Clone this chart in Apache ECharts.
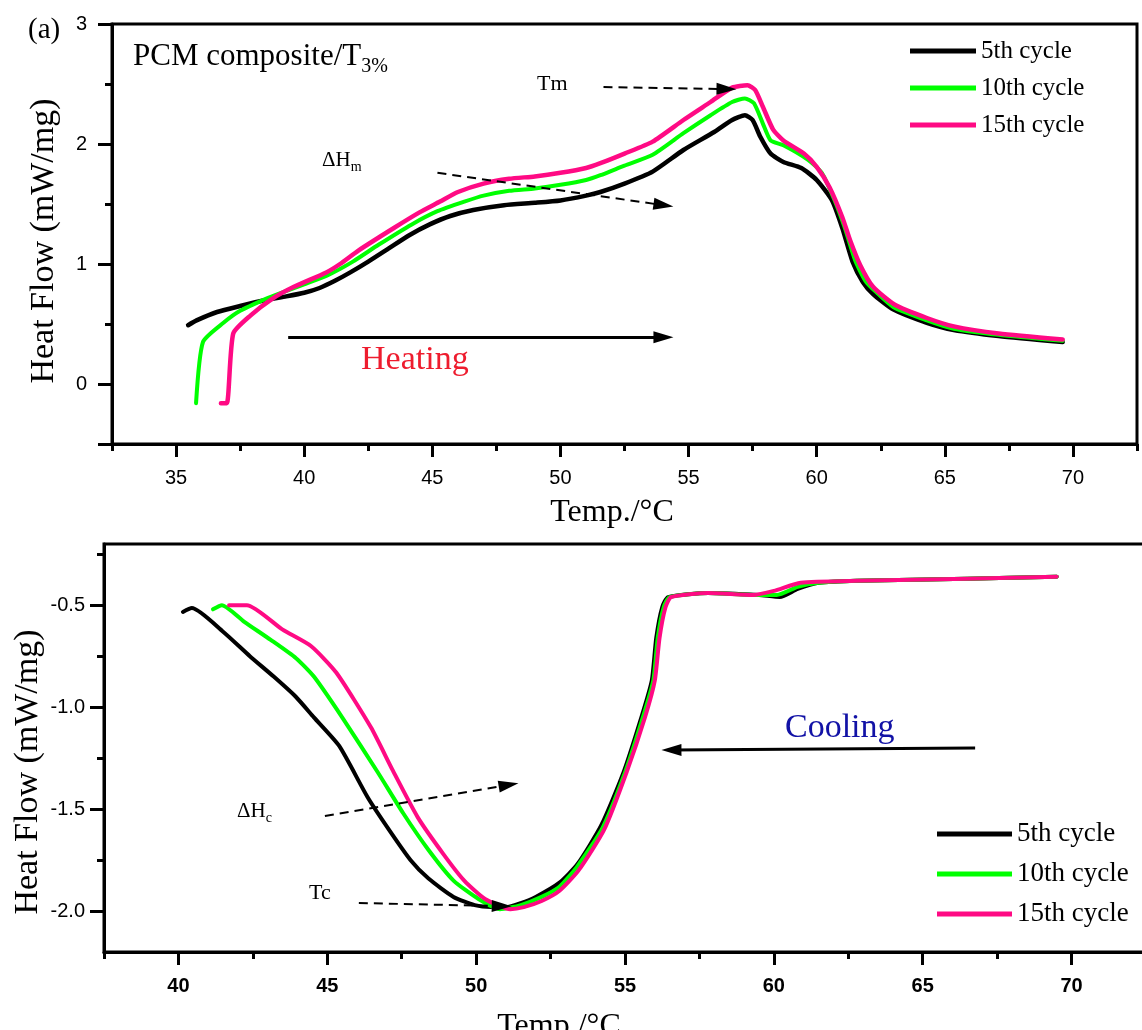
<!DOCTYPE html>
<html>
<head>
<meta charset="utf-8">
<title>DSC heating / cooling cycles</title>
<script src="https://cdn.jsdelivr.net/npm/echarts@6/dist/echarts.min.js"></script>
<style>
  html, body { margin: 0; padding: 0; background: #fff; }
  #chart { width: 1142px; height: 1030px; }
</style>
</head>
<body>
<div id="chart"></div>
<script>
// series names and colours
const cycleNames = ['5th cycle', '10th cycle', '15th cycle'];
const cycleColors = ['#000000', '#00ff00', '#ff0a84'];

// top panel: heating, [temperature °C, heat flow mW/mg]
const heating5 = [[35.47,0.49],[35.8,0.53],[36.6,0.60],[37.5,0.65],[38.5,0.70],[39.3,0.73],[40.0,0.76],[40.6,0.80],[41.2,0.86],[41.8,0.93],[42.5,1.02],[43.3,1.13],[44.1,1.24],[44.9,1.33],[45.7,1.40],[46.6,1.45],[47.8,1.49],[49.0,1.51],[50.0,1.53],[51.0,1.57],[51.56,1.60],[52.5,1.67],[53.6,1.77],[54.8,1.95],[56.0,2.10],[56.7,2.20],[57.2,2.24],[57.5,2.20],[57.8,2.06],[58.2,1.92],[58.7,1.85],[59.4,1.80],[60.0,1.70],[60.6,1.53],[61.0,1.30],[61.4,1.02],[61.8,0.85],[62.2,0.75],[63.0,0.62],[64.3,0.51],[65.35,0.45],[67.1,0.40],[69.6,0.35]];
const heating10 = [[35.78,-0.16],[36.05,0.35],[36.85,0.51],[37.5,0.61],[38.5,0.71],[39.1,0.76],[40.0,0.83],[40.86,0.90],[41.9,1.02],[42.9,1.16],[44.2,1.33],[45.2,1.44],[46.25,1.52],[47.0,1.57],[48.0,1.61],[49.0,1.63],[50.0,1.66],[51.0,1.70],[51.56,1.74],[52.5,1.82],[53.6,1.91],[54.8,2.09],[55.86,2.24],[56.7,2.35],[57.2,2.38],[57.55,2.34],[57.9,2.17],[58.2,2.03],[58.7,1.99],[59.65,1.87],[60.2,1.76],[60.7,1.53],[61.1,1.30],[61.5,1.03],[61.9,0.86],[62.3,0.77],[63.0,0.64],[64.3,0.53],[65.35,0.46],[67.1,0.41],[69.6,0.36]];
const heating15 = [[36.75,-0.16],[36.98,-0.16],[37.23,0.42],[37.9,0.57],[38.75,0.71],[39.6,0.81],[40.86,0.93],[41.4,1.0],[42.1,1.11],[43.5,1.30],[44.5,1.43],[45.3,1.52],[46.0,1.60],[47.0,1.67],[48.0,1.71],[49.0,1.73],[50.0,1.76],[51.0,1.80],[51.56,1.84],[52.5,1.92],[53.6,2.02],[54.8,2.20],[55.86,2.35],[56.7,2.47],[57.3,2.49],[57.6,2.45],[57.9,2.31],[58.3,2.12],[58.7,2.03],[59.5,1.92],[60.0,1.81],[60.5,1.64],[61.0,1.39],[61.3,1.20],[61.7,0.99],[62.2,0.81],[63.05,0.66],[64.3,0.55],[65.35,0.48],[67.1,0.42],[69.6,0.37]];

// bottom panel: cooling
const cooling5 = [[40.15,-0.533],[40.45,-0.514],[41.5,-0.63],[42.4,-0.75],[43.2,-0.85],[43.95,-0.95],[44.55,-1.05],[45.4,-1.19],[46.35,-1.44],[47.07,-1.60],[47.8,-1.75],[48.4,-1.84],[49.24,-1.93],[49.95,-1.97],[50.5,-1.98],[51.0,-1.98],[51.5,-1.96],[52.0,-1.93],[52.8,-1.86],[53.4,-1.77],[54.2,-1.58],[54.95,-1.32],[55.55,-1.05],[55.9,-0.87],[56.05,-0.66],[56.25,-0.51],[56.45,-0.46],[57.8,-0.44],[59.5,-0.45],[60.2,-0.46],[60.8,-0.42],[61.5,-0.39],[62.8,-0.38],[66.5,-0.37],[69.5,-0.36]];
const cooling10 = [[41.16,-0.52],[41.46,-0.50],[42.2,-0.58],[43.1,-0.67],[43.95,-0.76],[44.55,-0.85],[45.5,-1.05],[46.7,-1.32],[47.55,-1.52],[48.4,-1.70],[49.24,-1.85],[50.08,-1.94],[50.8,-1.99],[51.5,-1.97],[52.2,-1.93],[52.8,-1.88],[53.4,-1.78],[54.25,-1.59],[55.0,-1.32],[55.6,-1.05],[55.95,-0.87],[56.1,-0.66],[56.3,-0.51],[56.5,-0.46],[57.8,-0.44],[59.4,-0.45],[60.1,-0.45],[60.8,-0.41],[61.5,-0.39],[62.8,-0.38],[66.5,-0.37],[69.5,-0.36]];
const cooling15 = [[41.7,-0.50],[42.3,-0.50],[43.5,-0.62],[44.45,-0.70],[45.3,-0.83],[46.47,-1.10],[47.2,-1.31],[48.04,-1.54],[48.9,-1.72],[49.6,-1.85],[50.3,-1.94],[51.15,-1.99],[51.6,-1.98],[52.2,-1.95],[52.8,-1.90],[53.44,-1.80],[54.3,-1.60],[55.05,-1.32],[55.67,-1.05],[56.0,-0.87],[56.16,-0.66],[56.36,-0.51],[56.55,-0.46],[57.8,-0.44],[59.3,-0.45],[60.0,-0.43],[60.9,-0.39],[62.8,-0.38],[66.5,-0.37],[69.5,-0.36]];

// axis ticks
const topXMajor = [35, 40, 45, 50, 55, 60, 65, 70];
const topXMinor = [32.5, 37.5, 42.5, 47.5, 52.5, 57.5, 62.5, 67.5, 72.5];
const topYMajor = [-0.5, 0, 1, 2, 3];
const topYLabels = [0, 1, 2, 3];
const topYMinor = [0.5, 1.5, 2.5];
const botXMajor = [40, 45, 50, 55, 60, 65, 70];
const botXMinor = [37.5, 42.5, 47.5, 52.5, 57.5, 62.5, 67.5];
const botYMajor = [-2.0, -1.5, -1.0, -0.5];
const botYMinor = [-1.75, -1.25, -0.75, -0.25];

// annotation arrows, in data coordinates [[x1, y1], [x2, y2]]
const topDashedArrows = [[[51.68, 2.475], [56.48, 2.458]], [[45.2, 1.76], [54.02, 1.49]]];
const topSolidArrows = [[[39.375, 0.39], [54.02, 0.39]]];
const botDashedArrows = [[[44.92, -1.533], [51.09, -1.381]], [[46.06, -1.96], [50.86, -1.975]]];
const botSolidArrows = [[[66.76, -1.2], [56.56, -1.21]]];

const serif = '"Liberation Serif", "DejaVu Serif", serif';
const sans = '"Liberation Sans", Arial, sans-serif';

const measureCtx = document.createElement('canvas').getContext('2d');
function textWidth(txt, font) {
  measureCtx.font = font;
  return measureCtx.measureText(txt).width;
}

function label(x, y, txt, size, opts) {
  opts = opts || {};
  return {
    type: 'text', x: x, y: y, rotation: opts.rotation || 0, silent: true,
    style: {
      text: txt, fill: opts.color || '#000',
      font: size + 'px ' + serif,
      align: opts.align || 'left', verticalAlign: 'middle'
    }
  };
}

function withSub(x, y, main, sub, size, subSize, drop) {
  const w = textWidth(main, size + 'px ' + serif);
  return [label(x, y, main, size), label(x + w, y + drop, sub, subSize)];
}

function arrowLines(list, dashed) {
  return {
    silent: true,
    animation: false,
    symbol: ['none', 'triangle'],
    symbolSize: [12, 20],
    label: { show: false },
    lineStyle: { color: '#000', width: dashed ? 2 : 3, type: dashed ? [9, 6] : 'solid' },
    emphasis: { disabled: true },
    data: list.map(a => [{ coord: a[0] }, { coord: a[1] }])
  };
}

function cycleSeries(i, data, grid, width) {
  return {
    name: cycleNames[i],
    type: 'line',
    xAxisIndex: grid * 2,
    yAxisIndex: grid * 2,
    data: data,
    symbol: 'none',
    smooth: 0.2,
    animation: false,
    z: 2 + i,
    itemStyle: { color: cycleColors[i] },
    lineStyle: { color: cycleColors[i], width: width, cap: 'round', join: 'round' }
  };
}

function majorX(grid, min, max, ticks, bold) {
  return {
    type: 'value', gridIndex: grid, min: min, max: max, position: 'bottom',
    axisLine: { show: true, onZero: false, lineStyle: { color: '#000', width: 3 } },
    axisTick: { show: true, customValues: ticks, length: 13, lineStyle: { color: '#000', width: 3 } },
    axisLabel: {
      show: true, customValues: ticks, margin: 24, color: '#000',
      fontFamily: sans, fontSize: 20, fontWeight: bold ? 'bold' : 'normal'
    },
    splitLine: { show: false }
  };
}

function minorX(grid, min, max, ticks) {
  return {
    type: 'value', gridIndex: grid, min: min, max: max, position: 'bottom', offset: 0,
    axisLine: { show: false, onZero: false },
    axisTick: { show: true, customValues: ticks, length: 7, lineStyle: { color: '#000', width: 3 } },
    axisLabel: { show: false },
    splitLine: { show: false }
  };
}

function majorY(grid, min, max, ticks, labels, margin, fmt) {
  return {
    type: 'value', gridIndex: grid, min: min, max: max, position: 'left',
    axisLine: { show: true, onZero: false, lineStyle: { color: '#000', width: 3 } },
    axisTick: { show: true, customValues: ticks, length: 14, lineStyle: { color: '#000', width: 3 } },
    axisLabel: {
      show: true, customValues: labels, margin: margin, color: '#000',
      fontFamily: sans, fontSize: 20, formatter: fmt
    },
    splitLine: { show: false }
  };
}

function minorY(grid, min, max, ticks) {
  return {
    type: 'value', gridIndex: grid, min: min, max: max, position: 'left', offset: 0,
    axisLine: { show: false, onZero: false },
    axisTick: { show: true, customValues: ticks, length: 7, lineStyle: { color: '#000', width: 3 } },
    axisLabel: { show: false },
    splitLine: { show: false }
  };
}

const topS = [cycleSeries(0, heating5, 0, 4.5), cycleSeries(1, heating10, 0, 4), cycleSeries(2, heating15, 0, 4.5)];
const botS = [cycleSeries(0, cooling5, 1, 4), cycleSeries(1, cooling10, 1, 4), cycleSeries(2, cooling15, 1, 4)];
topS[0].markLine = arrowLines(topDashedArrows, true);
topS[1].markLine = arrowLines(topSolidArrows, false);
botS[0].markLine = arrowLines(botDashedArrows, true);
botS[1].markLine = arrowLines(botSolidArrows, false);

const texts = [
  label(28, 30, '(a)', 29),
  ...withSub(133, 57, 'PCM composite/T', '3%', 31, 20, 10),
  label(537, 84, 'Tm', 22),
  ...withSub(322, 160, 'ΔH', 'm', 21, 14, 7),
  label(361, 360, 'Heating', 34, { color: '#ee1c2e' }),
  label(612, 513, 'Temp./°C', 32, { align: 'center' }),
  label(44, 241, 'Heat Flow (mW/mg)', 34, { align: 'center', rotation: Math.PI / 2 }),
  label(785, 728, 'Cooling', 34, { color: '#1212a6' }),
  ...withSub(237, 811, 'ΔH', 'c', 21, 14, 7),
  label(309, 893, 'Tc', 22),
  label(559, 1027, 'Temp./°C', 32, { align: 'center' }),
  label(28, 772, 'Heat Flow (mW/mg)', 34, { align: 'center', rotation: Math.PI / 2 })
];

const legendBase = {
  data: cycleNames, orient: 'vertical', icon: 'rect', itemHeight: 5,
  selectedMode: false, inactiveColor: '#000'
};

const chart = echarts.init(document.getElementById('chart'), null, { renderer: 'canvas' });
chart.setOption({
  backgroundColor: '#fff',
  animation: false,
  grid: [
    { left: 112, top: 24, width: 1025, height: 420, show: true, borderColor: '#000', borderWidth: 3, outerBoundsMode: 'none' },
    { left: 104, top: 544, width: 1042, height: 408, show: true, borderColor: '#000', borderWidth: 3, outerBoundsMode: 'none' }
  ],
  xAxis: [
    majorX(0, 32.5, 72.5, topXMajor, false),
    minorX(0, 32.5, 72.5, topXMinor),
    majorX(1, 37.5, 72.5, botXMajor, true),
    minorX(1, 37.5, 72.5, botXMinor)
  ],
  yAxis: [
    majorY(0, -0.5, 3, topYMajor, topYLabels, 25, v => String(v)),
    minorY(0, -0.5, 3, topYMinor),
    majorY(1, -2.2, -0.2, botYMajor, botYMajor, 19, v => v.toFixed(1)),
    minorY(1, -2.2, -0.2, botYMinor)
  ],
  legend: [
    Object.assign({}, legendBase, {
      left: 905, top: 33, itemWidth: 66, itemGap: 11,
      textStyle: { fontFamily: serif, fontSize: 25, lineHeight: 26, color: '#000' }
    }),
    Object.assign({}, legendBase, {
      left: 932, top: 815, itemWidth: 75, itemGap: 12,
      textStyle: { fontFamily: serif, fontSize: 27, lineHeight: 28, color: '#000' }
    })
  ],
  graphic: texts,
  series: topS.concat(botS)
});
</script>
</body>
</html>
